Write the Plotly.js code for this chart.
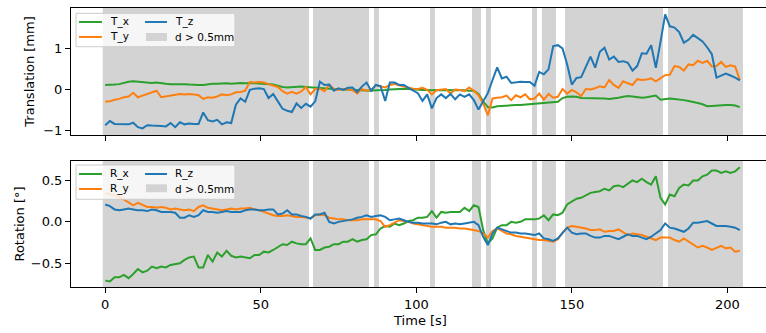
<!DOCTYPE html>
<html><head><meta charset="utf-8">
<script src="https://cdn.plot.ly/plotly-3.0.1.min.js"></script>
<style>html,body{margin:0;padding:0;overflow:hidden;background:#fff}#chart{width:776px;height:333px}</style>
</head><body><div id="chart"></div><script>
const time = [0,1.5,3,4.5,6,7.5,9,10.5,12,13.5,15,16.5,18,19.5,21,22.5,24,25.5,27,28.5,30,31.5,33,34.5,36,37.5,39,40.5,42,43.5,45,46.5,48,49.5,51,52.5,54,55.5,57,58.5,60,61.5,63,64.5,66,67.5,69,70.5,72,73.5,75,76.5,78,79.5,81,82.5,84,85.5,87,88.5,90,91.5,93,94.5,96,97.5,99,100.5,102,103.5,105,106.5,108,109.5,111,112.5,114,115.5,117,118.5,120,121.5,123,124.5,126,127.5,129,130.5,132,133.5,135,136.5,138,139.5,141,142.5,144,145.5,147,148.5,150,151.5,153,154.5,156,157.5,159,160.5,162,163.5,165,166.5,168,169.5,171,172.5,174,175.5,177,178.5,180,181.5,183,184.5,186,187.5,189,190.5,192,193.5,195,196.5,198,199.5,201,202.5,204];

const T_x = [0.10,0.10,0.11,0.12,0.15,0.18,0.19,0.18,0.17,0.16,
0.15,0.16,0.14,0.13,0.12,0.12,0.13,0.12,0.11,0.10,
0.10,0.10,0.12,0.13,0.13,0.14,0.14,0.13,0.14,0.15,
0.14,0.15,0.14,0.13,0.13,0.12,0.11,0.08,0.05,0.04,
0.05,0.06,0.06,0.05,0.04,0.03,0.02,0.02,0.01,0.00,
0.00,-0.01,-0.01,-0.02,-0.02,-0.03,-0.03,-0.04,-0.03,-0.03,
-0.02,-0.01,0.00,0.00,0.01,0.00,-0.01,-0.02,-0.02,-0.02,
-0.03,-0.02,-0.02,-0.03,-0.02,-0.02,-0.03,-0.03,-0.04,-0.04,
-0.12,-0.30,-0.44,-0.45,-0.42,-0.41,-0.40,-0.40,-0.39,-0.39,
-0.38,-0.37,-0.36,-0.35,-0.34,-0.33,-0.32,-0.31,-0.22,-0.19,
-0.18,-0.19,-0.22,-0.22,-0.23,-0.22,-0.23,-0.23,-0.24,-0.23,
-0.21,-0.19,-0.17,-0.18,-0.19,-0.21,-0.20,-0.18,-0.16,-0.26,
-0.25,-0.23,-0.24,-0.25,-0.27,-0.29,-0.31,-0.34,-0.37,-0.42,
-0.41,-0.40,-0.39,-0.39,-0.39,-0.40,-0.44];

const T_y = [-0.31,-0.30,-0.26,-0.24,-0.20,-0.18,-0.09,-0.20,-0.16,-0.12,
-0.07,-0.04,-0.20,-0.18,-0.15,-0.13,-0.12,-0.13,-0.12,-0.13,
-0.15,-0.24,-0.20,-0.21,-0.18,-0.13,-0.15,-0.13,-0.08,-0.07,
-0.04,0.17,0.16,0.17,0.16,0.12,0.08,0.05,-0.05,-0.11,
-0.07,-0.11,-0.06,0.05,-0.13,0.00,0.01,-0.05,0.10,0.00,
-0.02,0.00,-0.01,-0.03,-0.11,0.00,-0.04,-0.02,0.09,0.07,
0.04,0.10,0.12,0.09,0.06,0.03,0.01,0.00,0.03,-0.02,
-0.13,-0.03,-0.02,0.00,-0.11,-0.01,-0.02,-0.05,0.04,-0.04,
-0.15,-0.35,-0.64,-0.23,-0.21,-0.20,-0.16,-0.27,-0.15,-0.20,
-0.13,-0.25,-0.23,-0.11,-0.26,-0.12,-0.21,-0.19,0.00,-0.11,
-0.02,-0.08,-0.17,0.00,-0.01,0.02,0.07,0.04,0.22,0.10,
0.03,0.19,0.14,0.10,0.24,0.22,0.23,0.26,0.19,0.27,
0.34,0.35,0.56,0.54,0.45,0.60,0.58,0.69,0.64,0.69,
0.55,0.56,0.66,0.54,0.58,0.55,0.22];

const T_z = [-0.88,-0.78,-0.85,-0.85,-0.85,-0.86,-0.82,-0.93,-0.96,-0.88,
-0.89,-0.89,-0.90,-0.91,-0.83,-0.93,-0.81,-0.86,-0.84,-0.85,
-0.85,-0.57,-0.76,-0.79,-0.75,-0.86,-0.81,-0.83,-0.38,-0.23,
-0.31,-0.02,0.01,0.02,0.00,-0.22,-0.12,-0.30,-0.48,-0.53,
-0.56,-0.35,-0.46,-0.36,-0.43,-0.30,0.18,0.10,0.11,-0.04,
0.02,-0.02,0.03,0.04,-0.07,0.06,0.16,-0.04,0.10,0.07,
-0.29,0.16,0.16,0.10,0.10,0.03,-0.04,-0.10,-0.29,-0.13,
-0.47,-0.22,-0.13,-0.22,-0.12,-0.25,-0.13,-0.19,-0.13,-0.27,
-0.50,-0.30,-0.10,0.22,0.53,0.26,0.30,0.15,0.17,0.18,
0.17,0.17,0.08,0.42,0.36,0.48,1.05,1.07,0.99,0.60,
0.11,0.27,0.29,0.54,0.79,0.52,0.91,1.01,0.72,0.79,
0.66,0.68,0.64,0.45,0.56,0.87,0.86,1.07,0.52,1.15,
1.82,1.53,1.50,1.39,1.13,1.20,1.32,1.24,1.16,1.02,
0.85,0.28,0.34,0.38,0.33,0.28,0.21];

const R_x = [-0.71,-0.72,-0.67,-0.67,-0.64,-0.68,-0.63,-0.57,-0.61,-0.59,
-0.54,-0.56,-0.54,-0.55,-0.52,-0.51,-0.50,-0.46,-0.43,-0.42,
-0.55,-0.55,-0.40,-0.48,-0.37,-0.42,-0.35,-0.41,-0.43,-0.42,
-0.43,-0.44,-0.40,-0.40,-0.36,-0.37,-0.34,-0.31,-0.27,-0.28,
-0.24,-0.26,-0.27,-0.27,-0.20,-0.34,-0.34,-0.31,-0.30,-0.27,
-0.27,-0.24,-0.24,-0.21,-0.24,-0.22,-0.21,-0.16,-0.15,-0.08,
-0.05,-0.06,-0.02,-0.04,-0.02,0.01,0.02,0.05,0.05,0.06,
0.13,0.05,0.12,0.11,0.12,0.12,0.12,0.17,0.13,0.20,
0.18,-0.10,-0.26,-0.20,-0.07,-0.04,-0.04,0.00,-0.01,0.00,
0.03,0.03,0.03,0.04,0.08,0.02,0.09,0.08,0.11,0.21,
0.24,0.28,0.29,0.32,0.35,0.36,0.37,0.40,0.38,0.43,
0.44,0.42,0.46,0.50,0.48,0.52,0.48,0.45,0.55,0.29,
0.21,0.33,0.31,0.41,0.45,0.44,0.50,0.50,0.55,0.57,
0.62,0.62,0.59,0.61,0.59,0.61,0.66];

const R_y = [0.35,0.33,0.32,0.30,0.27,0.24,0.20,0.23,0.20,0.18,
0.18,0.17,0.18,0.17,0.15,0.16,0.15,0.14,0.15,0.13,
0.18,0.20,0.17,0.16,0.15,0.14,0.15,0.16,0.15,0.16,
0.16,0.17,0.15,0.14,0.12,0.10,0.08,0.07,0.07,0.08,
0.07,0.06,0.06,0.05,0.04,0.08,0.09,0.08,0.05,0.04,
0.03,0.03,0.02,0.02,0.02,0.03,0.03,0.03,0.03,0.01,
-0.06,-0.04,-0.01,0.02,0.01,0.00,-0.02,-0.03,-0.04,-0.05,
-0.06,-0.06,-0.06,-0.07,-0.07,-0.07,-0.08,-0.08,-0.09,-0.10,
-0.11,-0.14,-0.19,-0.11,-0.08,-0.11,-0.14,-0.15,-0.17,-0.18,
-0.19,-0.20,-0.21,-0.22,-0.22,-0.23,-0.24,-0.21,-0.13,-0.07,
-0.05,-0.06,-0.07,-0.08,-0.10,-0.10,-0.09,-0.12,-0.11,-0.11,
-0.09,-0.12,-0.16,-0.14,-0.15,-0.16,-0.18,-0.20,-0.22,-0.19,
-0.19,-0.19,-0.22,-0.24,-0.20,-0.24,-0.28,-0.31,-0.29,-0.31,
-0.34,-0.31,-0.29,-0.32,-0.31,-0.36,-0.35];

const R_z = [0.21,0.19,0.15,0.14,0.15,0.16,0.15,0.14,0.14,0.13,
0.15,0.14,0.12,0.12,0.12,0.11,0.05,0.05,0.08,0.06,
0.08,0.14,0.12,0.12,0.11,0.12,0.13,0.12,0.12,0.12,
0.14,0.15,0.15,0.14,0.14,0.15,0.15,0.09,0.10,0.14,
0.09,0.09,0.07,0.06,0.04,0.09,0.09,0.11,0.00,-0.02,
0.00,0.01,0.02,0.03,0.05,0.06,0.08,0.06,0.07,0.08,
0.06,0.02,0.03,0.04,0.02,0.00,-0.01,-0.01,-0.02,-0.02,
-0.02,-0.03,-0.01,0.00,-0.03,-0.02,-0.03,-0.02,-0.01,0.00,
-0.04,-0.18,-0.28,-0.14,-0.07,-0.09,-0.11,-0.13,-0.13,-0.14,
-0.14,-0.15,-0.16,-0.14,-0.20,-0.21,-0.23,-0.20,-0.13,-0.07,
-0.13,-0.15,-0.14,-0.14,-0.17,-0.19,-0.19,-0.17,-0.17,-0.19,
-0.21,-0.18,-0.15,-0.17,-0.17,-0.19,-0.21,-0.18,-0.14,-0.10,
-0.02,-0.07,-0.08,-0.10,-0.12,-0.08,-0.01,-0.01,0.00,0.01,
-0.02,-0.05,-0.05,-0.05,-0.06,-0.07,-0.10];

// intervals with displacement > 0.5 mm
const spanStart = [-0.8, 66.8, 86.4, 104.4, 117.9, 122.4, 137.2, 140.4, 147.8, 180.9];
const spanEnd   = [65.5, 84.8, 88.0, 106.0, 120.8, 124.0, 138.8, 144.9, 179.3, 205.0];

const xTicks = [0, 50, 100, 150, 200];
const transTicks = [-1, 0, 1];
const rotTicks = [-0.5, 0, 0.5];
const topNames = ['T_x', 'T_y', 'T_z'];
const botNames = ['R_x', 'R_y', 'R_z'];
const patchLabel = 'd > 0.5mm';

const C_GREEN = '#2ca02c', C_ORANGE = '#ff7f0e', C_BLUE = '#1f77b4', C_SPAN = '#d3d3d3';

const lineTrace = (y, name, color, xa, ya) => ({
  x: time, y: y, name: name, type: 'scatter', mode: 'lines',
  line: {color: color, width: 2}, xaxis: xa, yaxis: ya, hoverinfo: 'skip'
});

const data = [
  lineTrace(T_x, topNames[0], C_GREEN, 'x', 'y'),
  lineTrace(T_y, topNames[1], C_ORANGE, 'x', 'y'),
  lineTrace(T_z, topNames[2], C_BLUE, 'x', 'y'),
  lineTrace(R_x, botNames[0], C_GREEN, 'x2', 'y2'),
  lineTrace(R_y, botNames[1], C_ORANGE, 'x2', 'y2'),
  lineTrace(R_z, botNames[2], C_BLUE, 'x2', 'y2')
];

const shapes = [];
['y', 'y2'].forEach((ya, k) => {
  const xa = k === 0 ? 'x' : 'x2';
  spanStart.forEach((s, i) => {
    shapes.push({type: 'rect', xref: xa, yref: ya + ' domain', x0: s, x1: spanEnd[i], y0: 0, y1: 1,
      fillcolor: C_SPAN, line: {width: 0}, layer: 'below'});
  });
});

const annotations = [];
// legend boxes (drawn in axis-domain units)
function legend(xa, ya, names, rows) {
  const d = xa + ' domain', e = ya + ' domain';
  shapes.push({type: 'rect', xref: d, yref: e, x0: rows.bx0, x1: rows.bx1, y0: rows.by0, y1: rows.by1,
    fillcolor: 'rgba(255,255,255,0.8)', line: {color: '#cccccc', width: 1}, layer: 'above'});
  const items = [
    {n: names[0], c: C_GREEN, col: 0, row: 0},
    {n: names[1], c: C_ORANGE, col: 0, row: 1},
    {n: names[2], c: C_BLUE, col: 1, row: 0}
  ];
  const lx0 = [0.0114, 0.1059], lx1 = [0.0443, 0.1373], tx = [0.0529, 0.1459];
  items.forEach(it => {
    const yy = rows.ry[it.row];
    shapes.push({type: 'line', xref: d, yref: e, x0: lx0[it.col], x1: lx1[it.col], y0: yy, y1: yy,
      line: {color: it.c, width: 2}, layer: 'above'});
    annotations.push({xref: d, yref: e, x: tx[it.col], y: yy, text: it.n, showarrow: false,
      xanchor: 'left', yanchor: 'middle', font: {size: 10.5, color: 'black'}});
  });
  shapes.push({type: 'rect', xref: d, yref: e, x0: 0.1073, x1: 0.1373, y0: rows.py0, y1: rows.py1,
    fillcolor: C_SPAN, line: {width: 0}, layer: 'above'});
  annotations.push({xref: d, yref: e, x: tx[1], y: rows.ry[1], text: patchLabel, showarrow: false,
    xanchor: 'left', yanchor: 'middle', font: {size: 10.5, color: 'black'}});
}
legend('x', 'y', topNames, {bx0: 0.0072, bx1: 0.2346, by0: 0.695, by1: 0.958, ry: [0.890, 0.772], py0: 0.740, py1: 0.803});
legend('x2', 'y2', botNames, {bx0: 0.0072, bx1: 0.2346, by0: 0.696, by1: 0.968, ry: [0.897, 0.778], py0: 0.752, py1: 0.815});

const axisCommon = {
  showline: true, linecolor: 'black', linewidth: 1, mirror: true,
  ticks: 'outside', ticklen: 5, tickwidth: 1, tickcolor: 'black',
  showgrid: false, zeroline: false, automargin: false,
  tickfont: {size: 13, color: 'black'}
};

const layout = {
  width: 776, height: 333,
  margin: {l: 71, r: 6, t: 8, b: 46, pad: 0},
  paper_bgcolor: 'white', plot_bgcolor: 'white', showlegend: false,
  font: {family: 'DejaVu Sans', size: 13, color: 'black'},
  xaxis: Object.assign({}, axisCommon, {domain: [0, 1], range: [-11, 213.7], anchor: 'y',
    tickvals: xTicks, showticklabels: false}),
  yaxis: Object.assign({}, axisCommon, {domain: [0.5448, 1], range: [-1.12, 1.976], anchor: 'x',
    tickvals: transTicks, title: {text: 'Translation [mm]', font: {size: 13}, standoff: 5}}),
  xaxis2: Object.assign({}, axisCommon, {domain: [0, 1], range: [-11, 213.7], anchor: 'y2',
    tickvals: xTicks, title: {text: 'Time [s]', font: {size: 13}, standoff: 5}}),
  yaxis2: Object.assign({}, axisCommon, {domain: [0, 0.4516], range: [-0.787, 0.735], anchor: 'x2',
    tickvals: rotTicks, tickformat: '.1f', title: {text: 'Rotation [°]', font: {size: 13}, standoff: 3}}),
  shapes: shapes,
  annotations: annotations
};

Plotly.newPlot('chart', data, layout, {displayModeBar: false, staticPlot: true});
</script></body></html>
